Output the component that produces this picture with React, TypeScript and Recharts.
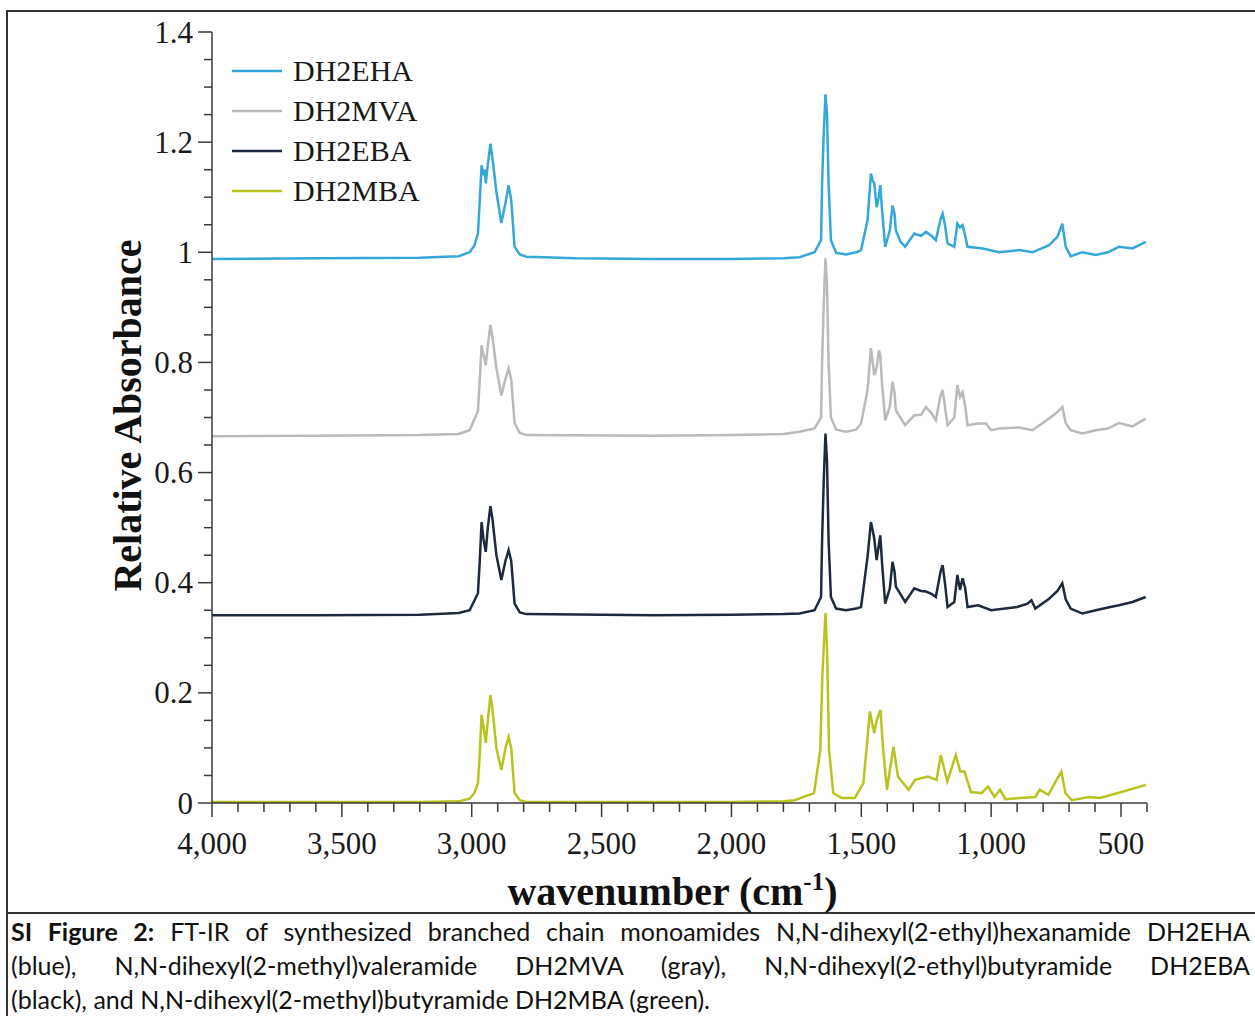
import React from "react";
import { LineChart, Line, XAxis, YAxis, Legend, Label } from "recharts";

type Pt = [number, number];

// tick positions (wavenumber, cm-1) and absorbance
const xTicks = [
  4000, 3900, 3800, 3700, 3600, 3500, 3400, 3300, 3200, 3100, 3000, 2900, 2800,
  2700, 2600, 2500, 2400, 2300, 2200, 2100, 2000, 1900, 1800, 1700, 1600, 1500,
  1400, 1300, 1200, 1100, 1000, 900, 800, 700, 600, 500, 400,
];
const xMajor = [4000, 3500, 3000, 2500, 2000, 1500, 1000, 500];
const yTicks = [
  0, 0.05, 0.1, 0.15, 0.2, 0.25, 0.3, 0.35, 0.4, 0.45, 0.5, 0.55, 0.6, 0.65,
  0.7, 0.75, 0.8, 0.85, 0.9, 0.95, 1, 1.05, 1.1, 1.15, 1.2, 1.25, 1.3, 1.35, 1.4,
];
const yMajor = [0, 0.2, 0.4, 0.6, 0.8, 1, 1.2, 1.4];

// DH2EHA (blue)
const dh2eha: Pt[] = [
  [4000, 0.988], [3600, 0.989], [3200, 0.99], [3050, 0.993], [3008, 1.0],
  [2990, 1.012], [2976, 1.034], [2969, 1.094], [2962, 1.158], [2955, 1.14],
  [2950, 1.15], [2946, 1.125], [2938, 1.16], [2928, 1.197], [2920, 1.17],
  [2905, 1.11], [2886, 1.053], [2870, 1.09], [2858, 1.122], [2848, 1.095],
  [2835, 1.01], [2815, 0.996], [2790, 0.992], [2600, 0.989], [2300, 0.988],
  [2000, 0.988], [1800, 0.989], [1738, 0.991], [1680, 1.0], [1655, 1.022],
  [1651, 1.125], [1645, 1.212], [1638, 1.287], [1632, 1.25], [1626, 1.125],
  [1617, 1.022], [1597, 0.999], [1559, 0.996], [1520, 1.0], [1501, 1.004],
  [1476, 1.058], [1463, 1.143], [1456, 1.13], [1450, 1.125], [1441, 1.082],
  [1433, 1.1], [1427, 1.122], [1420, 1.076], [1408, 1.01], [1390, 1.04],
  [1380, 1.085], [1372, 1.07], [1367, 1.04], [1350, 1.02], [1331, 1.01],
  [1296, 1.034], [1270, 1.03], [1251, 1.037], [1230, 1.03], [1213, 1.022],
  [1195, 1.06], [1187, 1.07], [1178, 1.05], [1168, 1.016], [1142, 1.01],
  [1130, 1.052], [1120, 1.045], [1110, 1.049], [1100, 1.03], [1091, 1.01],
  [1033, 1.007], [969, 1.0], [892, 1.004], [841, 1.0], [777, 1.013],
  [745, 1.028], [726, 1.052], [713, 1.01], [694, 0.993], [649, 1.0],
  [597, 0.995], [550, 1.0], [508, 1.01], [456, 1.007], [405, 1.019],
];

// DH2MVA (gray)
const dh2mva: Pt[] = [
  [4000, 0.666], [3600, 0.667], [3200, 0.668], [3050, 0.67], [3008, 0.677],
  [2976, 0.712], [2969, 0.77], [2962, 0.831], [2955, 0.815], [2946, 0.795],
  [2938, 0.83], [2928, 0.868], [2920, 0.845], [2905, 0.79], [2886, 0.74],
  [2870, 0.77], [2858, 0.789], [2848, 0.77], [2835, 0.69], [2815, 0.672],
  [2790, 0.668], [2300, 0.667], [2000, 0.668], [1800, 0.67], [1738, 0.674],
  [1680, 0.68], [1655, 0.7], [1651, 0.8], [1645, 0.9], [1638, 0.989],
  [1632, 0.94], [1626, 0.8], [1617, 0.7], [1597, 0.678], [1559, 0.674],
  [1520, 0.678], [1501, 0.689], [1476, 0.75], [1463, 0.826], [1456, 0.8],
  [1450, 0.777], [1441, 0.79], [1432, 0.822], [1427, 0.813], [1420, 0.76],
  [1408, 0.695], [1390, 0.72], [1380, 0.765], [1372, 0.745], [1367, 0.713],
  [1331, 0.686], [1296, 0.704], [1270, 0.705], [1251, 0.719], [1230, 0.708],
  [1213, 0.695], [1195, 0.74], [1187, 0.75], [1178, 0.72], [1168, 0.686],
  [1142, 0.7], [1130, 0.759], [1120, 0.737], [1110, 0.746], [1100, 0.72],
  [1091, 0.686], [1050, 0.689], [1020, 0.689], [1000, 0.677], [969, 0.68],
  [892, 0.682], [841, 0.677], [777, 0.698], [745, 0.71], [726, 0.719],
  [713, 0.69], [694, 0.677], [649, 0.671], [597, 0.677], [550, 0.68],
  [508, 0.69], [456, 0.684], [405, 0.698],
];

// DH2EBA (black)
const dh2eba: Pt[] = [
  [4000, 0.341], [3600, 0.341], [3200, 0.342], [3050, 0.345], [3008, 0.35],
  [2976, 0.381], [2969, 0.44], [2962, 0.51], [2955, 0.48], [2946, 0.456],
  [2938, 0.5], [2928, 0.539], [2920, 0.515], [2905, 0.45], [2886, 0.405],
  [2870, 0.44], [2858, 0.459], [2848, 0.44], [2835, 0.362], [2815, 0.346],
  [2790, 0.343], [2300, 0.341], [2000, 0.342], [1800, 0.343], [1738, 0.344],
  [1680, 0.35], [1655, 0.374], [1651, 0.477], [1645, 0.58], [1638, 0.671],
  [1632, 0.62], [1626, 0.477], [1617, 0.374], [1597, 0.353], [1559, 0.35],
  [1520, 0.353], [1501, 0.356], [1476, 0.447], [1463, 0.51], [1456, 0.495],
  [1450, 0.48], [1441, 0.441], [1432, 0.47], [1427, 0.486], [1420, 0.435],
  [1408, 0.362], [1390, 0.39], [1380, 0.438], [1372, 0.42], [1367, 0.393],
  [1331, 0.365], [1296, 0.39], [1270, 0.385], [1251, 0.384], [1230, 0.38],
  [1213, 0.374], [1195, 0.42], [1187, 0.432], [1178, 0.4], [1168, 0.356],
  [1142, 0.365], [1130, 0.414], [1120, 0.387], [1110, 0.408], [1100, 0.39],
  [1091, 0.356], [1050, 0.359], [1000, 0.35], [900, 0.356], [860, 0.362],
  [845, 0.368], [830, 0.353], [777, 0.371], [745, 0.385], [726, 0.399],
  [713, 0.37], [694, 0.353], [649, 0.344], [597, 0.35], [550, 0.355],
  [508, 0.359], [456, 0.365], [405, 0.374],
];

// DH2MBA (green)
const dh2mba: Pt[] = [
  [4000, 0.002], [3600, 0.002], [3200, 0.002], [3050, 0.003], [3008, 0.008],
  [2990, 0.018], [2976, 0.036], [2969, 0.09], [2962, 0.16], [2955, 0.14],
  [2946, 0.109], [2938, 0.15], [2928, 0.196], [2920, 0.17], [2905, 0.1],
  [2886, 0.06], [2870, 0.1], [2858, 0.12], [2848, 0.1], [2835, 0.018],
  [2815, 0.005], [2790, 0.002], [2300, 0.002], [2000, 0.002], [1800, 0.003],
  [1757, 0.005], [1682, 0.018], [1658, 0.096], [1650, 0.23], [1638, 0.345],
  [1632, 0.28], [1624, 0.096], [1608, 0.018], [1575, 0.009], [1525, 0.009],
  [1492, 0.036], [1467, 0.166], [1456, 0.14], [1450, 0.127], [1441, 0.15],
  [1426, 0.169], [1417, 0.102], [1401, 0.024], [1390, 0.06], [1376, 0.102],
  [1359, 0.048], [1318, 0.024], [1293, 0.042], [1244, 0.048], [1210, 0.042],
  [1194, 0.087], [1169, 0.039], [1136, 0.087], [1119, 0.057], [1103, 0.057],
  [1078, 0.02], [1037, 0.018], [1012, 0.03], [987, 0.011], [966, 0.024],
  [945, 0.007], [830, 0.011], [813, 0.024], [780, 0.015], [755, 0.036],
  [730, 0.057], [714, 0.018], [689, 0.005], [623, 0.011], [581, 0.009],
  [498, 0.02], [404, 0.033],
];

const series = [
  { name: "DH2EHA", color: "#34a8d8", points: dh2eha },
  { name: "DH2MVA", color: "#bababa", points: dh2mva },
  { name: "DH2EBA", color: "#1d2a3d", points: dh2eba },
  { name: "DH2MBA", color: "#b9c31e", points: dh2mba },
];

const serif = "'Liberation Serif', 'Times New Roman', serif";
const axisColor = "#3a3a3a";

const isMajor = (list: number[], v: number) =>
  list.some((m) => Math.abs(m - v) < 1e-6);

const YTick = (props: any) => {
  const { x, y, payload } = props;
  const major = isMajor(yMajor, payload.value);
  const len = major ? 14 : 8;
  return (
    <g>
      <line x1={x - len} x2={x} y1={y} y2={y} stroke={axisColor} strokeWidth={1.5} />
      {major && (
        <text
          x={x - 19}
          y={y}
          textAnchor="end"
          dominantBaseline="central"
          fontFamily={serif}
          fontSize={31}
          fill="#1a1a1a"
        >
          {String(Math.round(payload.value * 10) / 10)}
        </text>
      )}
    </g>
  );
};

const XTick = (props: any) => {
  const { x, y, payload } = props;
  const major = isMajor(xMajor, payload.value);
  const len = major ? 14 : 9;
  return (
    <g>
      <line x1={x} x2={x} y1={y} y2={y + len} stroke={axisColor} strokeWidth={1.5} />
      {major && (
        <text
          x={x}
          y={y + 40}
          textAnchor="middle"
          dominantBaseline="central"
          fontFamily={serif}
          fontSize={31}
          fill="#1a1a1a"
        >
          {payload.value.toLocaleString("en-US")}
        </text>
      )}
    </g>
  );
};

// legend keeps the plotting order of the series, not alphabetical
const LegendBox = (props: any) => {
  const items = (props.payload || []).slice();
  items.sort(
    (a: any, b: any) =>
      series.findIndex((s) => s.name === a.value) -
      series.findIndex((s) => s.name === b.value)
  );
  return (
    <div>
      {items.map((entry: any) => (
        <div
          key={entry.value}
          style={{ display: "flex", alignItems: "center", height: 40 }}
        >
          <svg width={50} height={6} style={{ marginRight: 11 }}>
            <line x1={0} x2={50} y1={3} y2={3} stroke={entry.color} strokeWidth={2.5} />
          </svg>
          <span style={{ fontFamily: serif, fontSize: 30, color: "#1a1a1a" }}>
            {entry.value}
          </span>
        </div>
      ))}
    </div>
  );
};

export default function App() {
  return (
    <div
      style={{
        position: "absolute",
        left: 0,
        top: 0,
        width: 1255,
        height: 1016,
        background: "#fff",
        overflow: "hidden",
      }}
    >
      {/* figure frame */}
      <div style={{ position: "absolute", left: 6, top: 10, width: 2, height: 1006, background: "#333" }} />
      <div style={{ position: "absolute", left: 6, top: 10, width: 1249, height: 2, background: "#333" }} />
      <div style={{ position: "absolute", left: 6, top: 912, width: 1249, height: 2, background: "#333" }} />

      <div style={{ position: "absolute", left: 0, top: 0 }}>
        <LineChart
          width={1255}
          height={913}
          margin={{ top: 32, right: 108, left: 112, bottom: 10 }}
        >
          <XAxis
            dataKey="wn"
            type="number"
            domain={[400, 4000]}
            reversed
            allowDataOverflow
            ticks={xTicks}
            interval={0}
            tickSize={0}
            tickMargin={0}
            tickLine={false}
            tick={<XTick />}
            height={100}
            axisLine={{ stroke: axisColor, strokeWidth: 1.5 }}
          >
            <Label
              content={(p: any) => {
                const vb = p.viewBox;
                return (
                  <text
                    x={vb.x + vb.width / 2 - 7}
                    y={vb.y + 102}
                    textAnchor="middle"
                    fontFamily={serif}
                    fontWeight="bold"
                    fontSize={40}
                    fill="#111"
                  >
                    wavenumber (cm
                    <tspan fontSize={25} dy={-15}>-1</tspan>
                    <tspan dy={15}>)</tspan>
                  </text>
                );
              }}
            />
          </XAxis>
          <XAxis
            xAxisId="top"
            orientation="top"
            type="number"
            domain={[400, 4000]}
            reversed
            tick={false}
            tickLine={false}
            height={0}
            axisLine={{ stroke: axisColor, strokeWidth: 1.5 }}
          />
          <YAxis
            type="number"
            domain={[0, 1.4]}
            allowDataOverflow
            ticks={yTicks}
            interval={0}
            tickSize={0}
            tickMargin={0}
            tickLine={false}
            tick={<YTick />}
            width={100}
            axisLine={{ stroke: axisColor, strokeWidth: 1.5 }}
          >
            <Label
              content={(p: any) => {
                const vb = p.viewBox;
                const cx = 127;
                const cy = vb.y + vb.height / 2 - 2;
                return (
                  <text
                    x={cx}
                    y={cy}
                    transform={`rotate(-90, ${cx}, ${cy})`}
                    textAnchor="middle"
                    dominantBaseline="central"
                    fontFamily={serif}
                    fontWeight="bold"
                    fontSize={40}
                    fill="#111"
                  >
                    Relative Absorbance
                  </text>
                );
              }}
            />
          </YAxis>
          <YAxis
            yAxisId="right"
            orientation="right"
            type="number"
            domain={[0, 1.4]}
            tick={false}
            tickLine={false}
            width={0}
            axisLine={{ stroke: axisColor, strokeWidth: 1.5 }}
          />
          <Legend
            layout="vertical"
            align="center"
            verticalAlign="middle"
            content={<LegendBox />}
            wrapperStyle={{ left: 232, top: 51, width: 220 }}
          />
          {series.map((s) => (
            <Line
              key={s.name}
              name={s.name}
              data={s.points.map(([wn, v]) => ({ wn, v }))}
              dataKey="v"
              type="linear"
              stroke={s.color}
              strokeWidth={2.5}
              dot={false}
              activeDot={false}
              isAnimationActive={false}
            />
          ))}
        </LineChart>
      </div>

      {/* caption */}
      <div
        style={{
          position: "absolute",
          left: 11,
          top: 914,
          width: 1239,
          fontFamily: "Lato, 'Liberation Sans', sans-serif",
          fontSize: 25,
          lineHeight: "34px",
          color: "#111",
        }}
      >
        <div style={{ textAlign: "justify", textAlignLast: "justify", whiteSpace: "nowrap" }}>
          <b>SI Figure 2:</b> FT-IR of synthesized branched chain monoamides
          N,N-dihexyl(2-ethyl)hexanamide DH2EHA
        </div>
        <div style={{ textAlign: "justify", textAlignLast: "justify" }}>
          (blue), N,N-dihexyl(2-methyl)valeramide DH2MVA (gray),
          N,N-dihexyl(2-ethyl)butyramide DH2EBA
        </div>
        <div>
          (black), and N,N-dihexyl(2-methyl)butyramide DH2MBA (green).
        </div>
      </div>
    </div>
  );
}
